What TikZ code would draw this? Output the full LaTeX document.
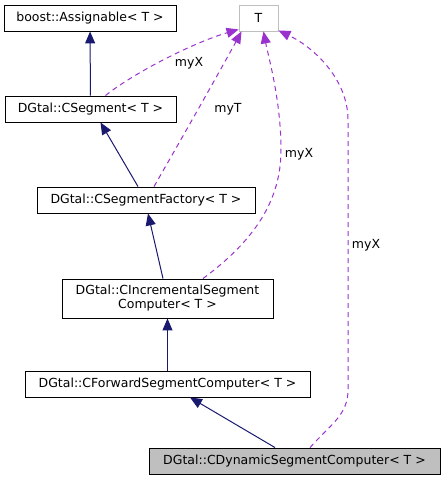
\documentclass[tikz,border=0pt]{standalone}
\usepackage{fontspec}
\setmainfont{DejaVu Sans}
\usepackage{xcolor}
\definecolor{navy}{RGB}{25,25,112}
\definecolor{orchid}{RGB}{154,50,205}
\definecolor{shade}{RGB}{191,191,191}
\usetikzlibrary{arrows.meta,positioning,calc}
\tikzset{
  cls/.style={draw=black, fill=white, line width=0.9pt, inner sep=0pt,
              minimum height=26pt, align=center,
              font=\fontsize{12.5}{14}\selectfont},
  inherit/.style={draw=navy, line width=1pt,
                  -{Triangle[length=12pt,width=10pt]}},
  member/.style={draw=orchid, line width=1pt, dash pattern=on 5pt off 4pt,
                 -{Triangle[length=12pt,width=10pt]}},
  lbl/.style={inner sep=0pt, font=\fontsize{12.5}{14}\selectfont},
}

\begin{document}
\begin{tikzpicture}[x=1pt,y=-1pt]
\useasboundingbox (0,0) rectangle (445,480);
\node[cls, minimum width=172pt] (asg) at (90,18) {boost::Assignable< T >};
\node[cls, draw=shade, minimum width=39pt] (T) at (258.5,18) {T};
\node[cls, minimum width=171pt] (seg) at (90.5,109) {DGtal::CSegment< T >};
\node[cls, minimum width=218pt] (fac) at (146,200) {DGtal::CSegmentFactory< T >};
\node[cls, minimum width=211pt, minimum height=39pt] (inc) at (167.5,298.5)
  {DGtal::CIncrementalSegment\\Computer< T >};
\node[cls, minimum width=285pt] (fwd) at (167.5,384) {DGtal::CForwardSegmentComputer< T >};
\node[cls, fill=shade, minimum width=291pt] (dyn) at (294.5,461)
  {DGtal::CDynamicSegmentComputer< T >};

\draw[inherit] (seg) -- (asg);
\draw[inherit] ($(fac.north)+(-8,0)$) -- ($(seg.south)+(10,0)$);
\draw[inherit] ($(inc.north)+(-4.5,0)$) -- ($(fac.south)+(2,0)$);
\draw[inherit] (fwd) -- (inc);
\draw[inherit] ($(dyn.north)+(-19.5,0)$) -- ($(fwd.south)+(22.5,0)$);

\draw[member] ($(seg.north)+(15,0)$) .. controls (135,72) and (195,42) .. ($(T.south west)+(0,-2)$);
\draw[member] ($(fac.north)+(8,0)$) .. controls (175,150) and (215,80) .. ($(T.south west)+(3,0)$);
\draw[member] ($(inc.north)+(35.5,0)$) .. controls (255,240) and (281,200) .. (281,150)
  .. controls (281,100) and (268,55) .. ($(T.south)+(5,0)$);
\draw[member] ($(dyn.north)+(15.5,0)$) .. controls (330,425) and (348,415) .. (348,390)
  -- (348,120) .. controls (348,80) and (315,48) .. ($(T.south east)+(0,-1)$);

\node[lbl] (myx1) at (189,63) {myX};
\node[lbl] (myt) at (228,109) {myT};
\node[lbl] (myx2) at (299,154) {myX};
\node[lbl] (myx3) at (366,245) {myX};
\end{tikzpicture}
\end{document}
